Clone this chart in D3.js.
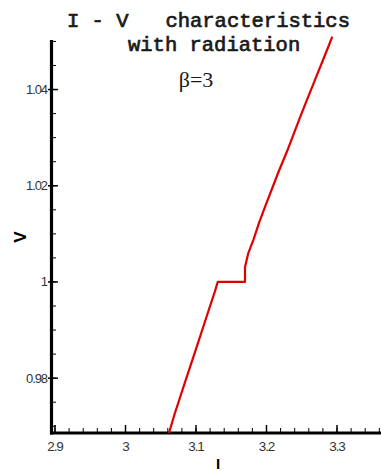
<!DOCTYPE html>
<html>
<head>
<meta charset="utf-8">
<script src="https://cdn.jsdelivr.net/npm/d3@7/dist/d3.min.js"></script>
<style>
  html, body { margin: 0; padding: 0; background: #fff; }
  svg { display: block; }
</style>
</head>
<body>
<svg id="chart" width="381" height="471"></svg>
<script>
// I-V curve with radiation, beta = 3
const currentI = [3.0617, 3.0700, 3.0854, 3.1010, 3.1166, 3.1265, 3.1308, 3.1695, 3.1695, 3.1742, 3.1813, 3.1894, 3.1979, 3.2163, 3.2309, 3.2499, 3.2688, 3.2877, 3.2933];
const voltageV = [0.9686, 0.9727, 0.9796, 0.9865, 0.9935, 0.9979, 1.0000, 1.0000, 1.0031, 1.0060, 1.0087, 1.0123, 1.0156, 1.0226, 1.0278, 1.0351, 1.0420, 1.0489, 1.0510];

const xMajorTicks = [2.9, 3.0, 3.1, 3.2, 3.3];
const xTickLabels = ["2.9", "3", "3.1", "3.2", "3.3"];
const yMajorTicks = [0.98, 1.0, 1.02, 1.04];
const yTickLabels = ["0.98", "1", "1.02", "1.04"];

const titleLines = ["I - V   characteristics", "with radiation"];
const subtitle = "β=3";
const xLabel = "I";
const yLabel = "V";

const svg = d3.select("#chart");

const x = d3.scaleLinear().domain([2.9, 3.3]).range([55, 337]);
const y = d3.scaleLinear().domain([0.9686, 1.0503]).range([433, 40]);

const right = x.invert(381);

// minor tick positions
const xMinor = d3.range(0, 25).map(i => +(2.9 + i * 0.02).toFixed(3)).filter(v => v <= right);
const yMinor = d3.range(0, 17).map(i => +(0.97 + i * 0.005).toFixed(4)).filter(v => v <= 1.0503);

const tickFont = "'Liberation Sans Narrow', 'Liberation Sans', Arial, sans-serif";

// Title
svg.append("g")
  .selectAll("text")
  .data(titleLines)
  .join("text")
  .attr("x", (d, i) => i === 0 ? 67 : 128)
  .attr("y", (d, i) => i === 0 ? 27 : 51)
  .attr("xml:space", "preserve")
  .style("white-space", "pre")
  .attr("font-family", "'Liberation Mono', 'DejaVu Sans Mono', monospace")
  .attr("font-size", 20.5)
  .attr("font-weight", "normal")
  .attr("fill", "#1a1a1a")
  .attr("stroke", "#1a1a1a")
  .attr("stroke-width", 0.7)
  .text(d => d);

svg.append("text")
  .attr("x", 196)
  .attr("y", 87)
  .attr("text-anchor", "middle")
  .attr("font-family", "'Liberation Serif', 'DejaVu Serif', serif")
  .attr("font-size", 22)
  .attr("fill", "#1a1a1a")
  .text(subtitle);

// Y axis
const yAxis = svg.append("g");
yAxis.selectAll("line.minor")
  .data(yMinor)
  .join("line")
  .attr("x1", 51).attr("x2", 56)
  .attr("y1", d => y(d)).attr("y2", d => y(d))
  .attr("stroke", "#000").attr("stroke-width", 1);
yAxis.selectAll("line.major")
  .data(yMajorTicks)
  .join("line")
  .attr("x1", 48).attr("x2", 58)
  .attr("y1", d => y(d)).attr("y2", d => y(d))
  .attr("stroke", "#000").attr("stroke-width", 1.5);
yAxis.selectAll("text")
  .data(yMajorTicks)
  .join("text")
  .attr("x", 47)
  .attr("y", d => y(d) + 4.5)
  .attr("text-anchor", "end")
  .attr("font-family", tickFont)
  .attr("font-size", 13)
  .attr("letter-spacing", -1.1)
  .attr("fill", "#333")
  .text((d, i) => yTickLabels[i]);
yAxis.append("line")
  .attr("x1", 51.5).attr("x2", 51.5)
  .attr("y1", y(1.0503)).attr("y2", 434.5)
  .attr("stroke", "#000").attr("stroke-width", 3.2);

// X axis
const xAxis = svg.append("g");
xAxis.selectAll("line.minor")
  .data(xMinor)
  .join("line")
  .attr("x1", d => x(d)).attr("x2", d => x(d))
  .attr("y1", 433).attr("y2", 428)
  .attr("stroke", "#000").attr("stroke-width", 1);
xAxis.selectAll("line.major")
  .data(xMajorTicks)
  .join("line")
  .attr("x1", d => x(d)).attr("x2", d => x(d))
  .attr("y1", 433).attr("y2", 425)
  .attr("stroke", "#000").attr("stroke-width", 1.5);
xAxis.selectAll("text")
  .data(xMajorTicks)
  .join("text")
  .attr("x", d => x(d))
  .attr("y", 451)
  .attr("text-anchor", "middle")
  .attr("font-family", tickFont)
  .attr("font-size", 13.5)
  .attr("letter-spacing", -1.1)
  .attr("fill", "#333")
  .text((d, i) => xTickLabels[i]);
xAxis.append("line")
  .attr("x1", 50).attr("x2", 381)
  .attr("y1", y(0.9686)).attr("y2", y(0.9686))
  .attr("stroke", "#000").attr("stroke-width", 3.2);

// Axis titles
svg.append("text")
  .attr("x", 218)
  .attr("y", 469)
  .attr("text-anchor", "middle")
  .attr("font-family", "'Liberation Sans', Arial, sans-serif")
  .attr("font-weight", "bold")
  .attr("font-size", 15)
  .attr("fill", "#000")
  .text(xLabel);

svg.append("text")
  .attr("transform", "translate(26,237) rotate(-90)")
  .attr("text-anchor", "middle")
  .attr("font-family", "'Liberation Sans', Arial, sans-serif")
  .attr("font-weight", "bold")
  .attr("font-size", 17)
  .attr("fill", "#000")
  .text(yLabel);

// Curve
const line = d3.line()
  .x((d, i) => x(currentI[i]))
  .y((d, i) => y(voltageV[i]));

svg.append("path")
  .datum(currentI)
  .attr("d", line)
  .attr("fill", "none")
  .attr("stroke", "#e00000")
  .attr("stroke-width", 2.2)
  .attr("stroke-linejoin", "round");
</script>
</body>
</html>
